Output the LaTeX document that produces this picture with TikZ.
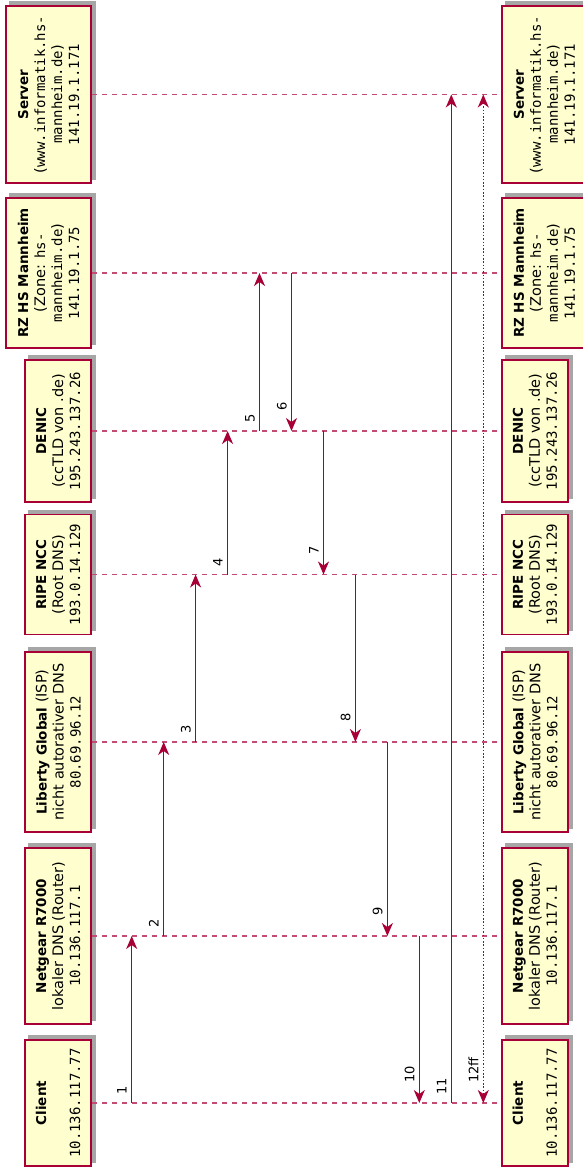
\documentclass[tikz,border=0pt]{standalone}
\usepackage{fontspec}
\setmainfont{DejaVu Sans}
\setmonofont{DejaVu Sans Mono}
\usetikzlibrary{arrows.meta,backgrounds}
\definecolor{pu}{HTML}{A80036}
\definecolor{pfill}{HTML}{FEFECE}
\newcommand\ipt[1]{{\fontsize{14}{17}\selectfont\ttfamily #1}}
\newcommand\pname[1]{{\fontsize{13.5}{17}\selectfont\bfseries #1}}
\begin{document}
\begin{tikzpicture}[x=1pt,y=-1pt,
  part/.style={draw=pu, line width=1.8pt, fill=pfill, rotate=90, inner sep=0pt,
    align=center, font=\fontsize{14.5}{17}\selectfont},
  head/.style={part, anchor=south},
  foot/.style={part, anchor=north},
  lifeline/.style={draw=pu!70, line width=1.4pt, dash pattern=on 4.5pt off 5.5pt},
  tip/.tip={Stealth[length=13pt,width=11pt,inset=4pt]},
  msg/.style={draw=pu, line width=1.5pt, -tip},
  back/.style={draw=pu, line width=1.5pt, dash pattern=on 1.5pt off 1.8pt, tip-tip},
  lbl/.style={rotate=90, anchor=base west, inner sep=0pt, font=\fontsize{13}{15}\selectfont},
  shadowbox/.style={fill=black!35},
]
\useasboundingbox (0,0) rectangle (582,1168);

% head participants (left column)
\node[head, minimum width=177pt, minimum height=85pt] (sH) at (92,94.5)
  {\pname{Server}\\(\ipt{www.informatik.hs-}\\\ipt{mannheim.de})\\\ipt{141.19.1.171}};
\node[head, minimum width=150pt, minimum height=85pt] (rH) at (92,273)
  {\pname{RZ HS Mannheim}\\(Zone: \ipt{hs-}\\\ipt{mannheim.de})\\\ipt{141.19.1.75}};
\node[head, minimum width=142pt, minimum height=66pt] (dH) at (92,431)
  {\pname{DENIC}\\(ccTLD von .de)\\\ipt{195.243.137.26}};
\node[head, minimum width=120pt, minimum height=66pt] (iH) at (92,574.5)
  {\pname{RIPE NCC}\\(Root DNS)\\\ipt{193.0.14.129}};
\node[head, minimum width=180pt, minimum height=66pt] (lH) at (92,742)
  {\pname{Liberty Global} (ISP)\\nicht autorativer DNS\\\ipt{80.69.96.12}};
\node[head, minimum width=176pt, minimum height=66pt] (nH) at (92,936)
  {\pname{Netgear R7000}\\lokaler DNS (Router)\\\ipt{10.136.117.1}};
\node[head, minimum width=126pt, minimum height=66pt] (cH) at (92,1103)
  {\pname{Client}\\[17pt]\ipt{10.136.117.77}};

% foot participants (right column)
\node[foot, minimum width=177pt, minimum height=85pt] (sF) at (501,94.5)
  {\pname{Server}\\(\ipt{www.informatik.hs-}\\\ipt{mannheim.de})\\\ipt{141.19.1.171}};
\node[foot, minimum width=150pt, minimum height=85pt] (rF) at (501,273)
  {\pname{RZ HS Mannheim}\\(Zone: \ipt{hs-}\\\ipt{mannheim.de})\\\ipt{141.19.1.75}};
\node[foot, minimum width=142pt, minimum height=66pt] (dF) at (501,431)
  {\pname{DENIC}\\(ccTLD von .de)\\\ipt{195.243.137.26}};
\node[foot, minimum width=120pt, minimum height=66pt] (iF) at (501,574.5)
  {\pname{RIPE NCC}\\(Root DNS)\\\ipt{193.0.14.129}};
\node[foot, minimum width=180pt, minimum height=66pt] (lF) at (501,742)
  {\pname{Liberty Global} (ISP)\\nicht autorativer DNS\\\ipt{80.69.96.12}};
\node[foot, minimum width=176pt, minimum height=66pt] (nF) at (501,936)
  {\pname{Netgear R7000}\\lokaler DNS (Router)\\\ipt{10.136.117.1}};
\node[foot, minimum width=126pt, minimum height=66pt] (cF) at (501,1103)
  {\pname{Client}\\[17pt]\ipt{10.136.117.77}};

\begin{scope}[on background layer]
  \foreach \n in {sH,rH,dH,iH,lH,nH,cH,sF,rF,dF,iF,lF,nF,cF}
    \fill[shadowbox] ([xshift=4pt,yshift=4pt]\n.south west) rectangle ([xshift=4pt,yshift=4pt]\n.north east);
\end{scope}

% lifelines
\foreach \a/\b in {sH/sF,rH/rF,dH/dF,iH/iF,lH/lF,nH/nF,cH/cF}
  \draw[lifeline] (\a.south) -- (\b.north);

% message columns
\coordinate (m1) at (131.7,0);
\coordinate (m2) at (163.7,0);
\coordinate (m3) at (195.6,0);
\coordinate (m4) at (227.6,0);
\coordinate (m5) at (259.5,0);
\coordinate (m6) at (291.5,0);
\coordinate (m7) at (323.5,0);
\coordinate (m8) at (355.4,0);
\coordinate (m9) at (387.4,0);
\coordinate (m10) at (419.3,0);
\coordinate (m11) at (451.3,0);
\coordinate (m12) at (483.3,0);

\draw[msg] (m1 |- cH.south) -- (m1 |- nH.south);
\draw[msg] (m2 |- nH.south) -- (m2 |- lH.south);
\draw[msg] (m3 |- lH.south) -- (m3 |- iH.south);
\draw[msg] (m4 |- iH.south) -- (m4 |- dH.south);
\draw[msg] (m5 |- dH.south) -- (m5 |- rH.south);
\draw[msg] (m6 |- rH.south) -- (m6 |- dH.south);
\draw[msg] (m7 |- dH.south) -- (m7 |- iH.south);
\draw[msg] (m8 |- iH.south) -- (m8 |- lH.south);
\draw[msg] (m9 |- lH.south) -- (m9 |- nH.south);
\draw[msg] (m10 |- nH.south) -- (m10 |- cH.south);
\draw[msg] (m11 |- cH.south) -- (m11 |- sH.south);
\draw[back] (m12 |- sH.south) -- (m12 |- cH.south);

% labels
\node[lbl] (l1) at (126.7,1095) {1};
\node[lbl] (l2) at (158.7,928) {2};
\node[lbl] (l3) at (190.6,734) {3};
\node[lbl] (l4) at (222.6,566.5) {4};
\node[lbl] (l5) at (254.5,423) {5};
\node[lbl] (l6) at (286.5,411) {6};
\node[lbl] (l7) at (318.5,554.5) {7};
\node[lbl] (l8) at (350.4,722) {8};
\node[lbl] (l9) at (382.4,916) {9};
\node[lbl] (l10) at (414.3,1083) {10};
\node[lbl] (l11) at (446.3,1095) {11};
\node[lbl] (l12) at (478.3,1083) {12ff};
\end{tikzpicture}
\end{document}
